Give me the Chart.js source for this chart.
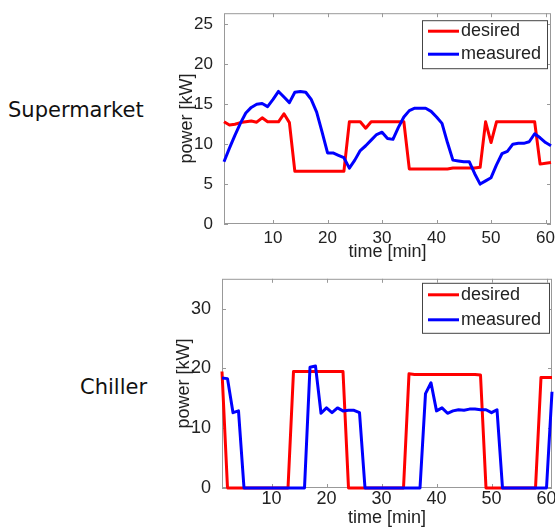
<!DOCTYPE html>
<html>
<head>
<meta charset="utf-8">
<script src="https://cdn.jsdelivr.net/npm/chart.js@4/dist/chart.umd.min.js"></script>
<style>
  body { margin: 0; background: #fff; }
  #page { position: relative; width: 555px; height: 531px; overflow: hidden; }
  .lbl { position: absolute; font: 21px/21px "DejaVu Sans"; color: #111; white-space: nowrap; }
  canvas { position: absolute; left: 160px; }
</style>
</head>
<body>
<div id="page">
  <div class="lbl" style="left:8px;top:100px">Supermarket</div>
  <div class="lbl" style="left:80px;top:377px">Chiller</div>
  <canvas id="top" width="395" height="265" style="top:0px"></canvas>
  <canvas id="bottom" width="395" height="266" style="top:265px"></canvas>
</div>
<script>
// time axis, one sample per minute
const minutes = [1, 2, 3, 4, 5, 6, 7, 8, 9, 10, 11, 12, 13, 14, 15, 16, 17, 18, 19, 20,
  21, 22, 23, 24, 25, 26, 27, 28, 29, 30, 31, 32, 33, 34, 35, 36, 37, 38, 39, 40,
  41, 42, 43, 44, 45, 46, 47, 48, 49, 50, 51, 52, 53, 54, 55, 56, 57, 58, 59, 60, 61];

const seriesNames = ['desired', 'measured'];

// supermarket power [kW]
const marketDesired = [12.8, 12.4, 12.5, 12.7, 12.8, 12.9, 12.75, 13.3, 12.8, 12.8,
  12.8, 13.8, 12.7, 6.6, 6.6, 6.6, 6.6, 6.6, 6.6, 6.6,
  6.6, 6.6, 6.6, 12.8, 12.8, 12.8, 12.0, 12.8, 12.8, 12.8,
  12.8, 12.8, 12.8, 12.8, 6.9, 6.9, 6.9, 6.9, 6.9, 6.9,
  6.9, 6.9, 7.0, 7.0, 7.0, 7.0, 7.0, 7.1, 12.8, 10.2,
  12.8, 12.8, 12.8, 12.8, 12.8, 12.8, 12.8, 12.8, 7.5, 7.6, 7.7];
const marketMeasured = [7.8, 9.5, 11.1, 12.6, 13.9, 14.6, 15.0, 15.1, 14.7, 15.6,
  16.6, 15.9, 15.2, 16.5, 16.6, 16.5, 15.6, 14.0, 11.5, 8.9,
  8.9, 8.6, 8.3, 7.0, 8.0, 9.2, 9.8, 10.5, 11.2, 11.5,
  10.7, 10.6, 12.1, 13.4, 14.2, 14.5, 14.5, 14.5, 14.1, 13.4,
  12.6, 10.2, 8.0, 7.9, 7.8, 7.8, 6.3, 5.0, 5.4, 5.8,
  7.4, 8.8, 9.1, 10.0, 10.1, 10.1, 10.3, 11.3, 10.8, 10.2, 9.8];

// chiller power [kW]
const chillerDesired = [19.5, 0, 0, 0, 0, 0, 0, 0, 0, 0,
  0, 0, 0, 19.5, 19.5, 19.5, 19.5, 19.5, 19.5, 19.5,
  19.5, 19.5, 19.5, 0, 0, 0, 0, 0, 0, 0,
  0, 0, 0, 0, 19.1, 19.0, 19.0, 19.0, 19.0, 19.0,
  19.0, 19.0, 19.0, 19.0, 19.0, 19.0, 19.0, 18.9, 0, 0,
  0, 0, 0, 0, 0, 0, 0, 0, 18.5, 18.5, 18.5];
const chillerMeasured = [18.4, 18.3, 12.6, 12.9, 0, 0, 0, 0, 0, 0,
  0, 0, 0, 0, 0, 0, 20.2, 20.4, 12.5, 13.4,
  12.6, 13.4, 12.9, 13.0, 13.0, 12.6, 0, 0, 0, 0,
  0, 0, 0, 0, 0, 0, 0, 15.8, 17.6, 12.9,
  13.4, 12.5, 12.9, 13.1, 13.0, 13.2, 13.2, 13.1, 13.1, 12.6,
  13.1, 0, 0, 0, 0, 0, 0, 0, 0, 0, 16.1];

const xTicks = [10, 20, 30, 40, 50, 60];
const marketYTicks = [0, 5, 10, 15, 20, 25];
const chillerYTicks = [0, 10, 20, 30];

const titleFont = { family: 'Liberation Sans', size: 18 };

// matlab style box, inward ticks and legend inside the axes
const axesBox = {
  id: 'axesBox',
  beforeDatasetsDraw(chart) {
    const { ctx, chartArea: a, scales } = chart;
    ctx.save();
    ctx.strokeStyle = '#999';
    ctx.lineWidth = 1;
    ctx.strokeRect(a.left + 0.5, a.top + 0.5, a.right - a.left - 1, a.bottom - a.top - 1);
    ctx.beginPath();
    scales.x.ticks.forEach(t => {
      const px = Math.round(scales.x.getPixelForValue(t.value)) + 0.5;
      ctx.moveTo(px, a.bottom); ctx.lineTo(px, a.bottom - 4);
      ctx.moveTo(px, a.top); ctx.lineTo(px, a.top + 4);
    });
    scales.y.ticks.forEach(t => {
      const py = Math.round(scales.y.getPixelForValue(t.value)) + 0.5;
      ctx.moveTo(a.left, py); ctx.lineTo(a.left + 4, py);
      ctx.moveTo(a.right, py); ctx.lineTo(a.right - 4, py);
    });
    ctx.stroke();
    ctx.restore();
  },
  afterDatasetsDraw(chart, args, opts) {
    const { ctx, chartArea: a } = chart;
    const x0 = a.right - opts.right - opts.w;
    const y0 = a.top + opts.top;
    ctx.save();
    ctx.fillStyle = '#fff';
    ctx.fillRect(x0, y0, opts.w, opts.h);
    ctx.strokeStyle = '#444';
    ctx.lineWidth = 1;
    ctx.strokeRect(x0 + 0.5, y0 + 0.5, opts.w, opts.h);
    ctx.font = '18px "Liberation Sans"';
    ctx.textBaseline = 'middle';
    chart.data.datasets.forEach((ds, i) => {
      const cy = y0 + opts.row0 + i * opts.rowGap;
      ctx.strokeStyle = ds.borderColor;
      ctx.lineWidth = 3;
      ctx.beginPath();
      ctx.moveTo(x0 + 6, cy); ctx.lineTo(x0 + 37, cy);
      ctx.stroke();
      ctx.fillStyle = '#222';
      ctx.fillText(ds.label, x0 + 39, cy);
    });
    ctx.restore();
  }
};

function makeChart(id, desired, measured, yMax, yTicks, lay) {
  const tickFont = { family: 'Liberation Sans', size: lay.fs };
  new Chart(document.getElementById(id), {
    type: 'line',
    data: {
      datasets: [
        { label: seriesNames[0], data: minutes.map((m, i) => ({ x: m, y: desired[i] })),
          borderColor: '#ff0000', order: 1 },
        { label: seriesNames[1], data: minutes.map((m, i) => ({ x: m, y: measured[i] })),
          borderColor: '#0000ff', order: 0 }
      ]
    },
    options: {
      responsive: false,
      animation: false,
      devicePixelRatio: 1,
      layout: { padding: lay.pad },
      elements: {
        line: { borderWidth: 3, tension: 0, borderJoinStyle: 'round', fill: false },
        point: { radius: 0 }
      },
      datasets: { line: { clip: 4 } },
      scales: {
        x: {
          type: 'linear', min: 1, max: 61,
          afterBuildTicks: s => { s.ticks = xTicks.map(v => ({ value: v })); },
          afterFit: s => { s.height = lay.xh; },
          grid: { display: false }, border: { display: false },
          ticks: { font: tickFont, color: '#222', padding: lay.xtp, maxRotation: 0, autoSkip: false },
          title: { display: true, text: 'time [min]', font: titleFont, color: '#222', padding: { top: 0, bottom: 2 } }
        },
        y: {
          min: 0, max: yMax,
          afterBuildTicks: s => { s.ticks = yTicks.map(v => ({ value: v })); },
          afterFit: s => { s.width = lay.yw; },
          grid: { display: false }, border: { display: false },
          ticks: { font: tickFont, color: '#222', padding: 3 },
          title: { display: true, text: 'power [kW]', font: titleFont, color: '#222', padding: { top: lay.ytp, bottom: 0 } }
        }
      },
      plugins: {
        legend: { display: false },
        tooltip: { enabled: false },
        axesBox: lay.legend
      }
    },
    plugins: [axesBox]
  });
}

makeChart('top', marketDesired, marketMeasured, 26.4, marketYTicks, {
  pad: { top: 6, right: 4, left: 0, bottom: 0 }, xh: 41, yw: 64, xtp: -4, ytp: 16, fs: 17,
  legend: { right: 4, top: 7, w: 125, h: 48, row0: 11, rowGap: 23 }
});
makeChart('bottom', chillerDesired, chillerMeasured, 35, chillerYTicks, {
  pad: { top: 6, right: 3, left: 0, bottom: 0 }, xh: 43, yw: 62, xtp: -8, ytp: 13, fs: 18,
  legend: { right: 3, top: 4, w: 127, h: 50, row0: 12, rowGap: 25 }
});
</script>
</body>
</html>
